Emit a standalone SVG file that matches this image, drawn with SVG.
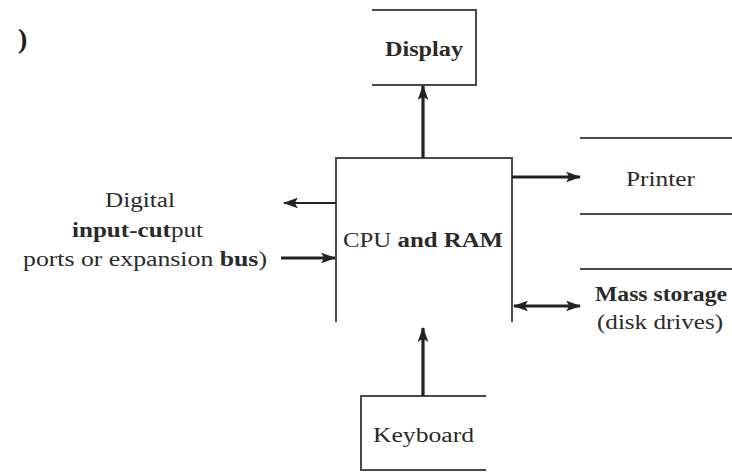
<svg xmlns="http://www.w3.org/2000/svg" width="732" height="472" viewBox="0 0 732 472">
  <style>
    .box { fill: none; stroke: #4a4a4a; stroke-width: 2; }
    .lbl { font-family: "Liberation Serif", "Times New Roman", serif; font-size: 20px; fill: #2a2a2a; }
    .b { font-weight: bold; }
    .wire { stroke: #222; fill: none; }
    .thin { stroke-width: 2; }
    .thick { stroke-width: 3.2; }
  </style>
  <defs>
    <marker id="head" viewBox="0 0 14 10" refX="13" refY="5" markerWidth="15" markerHeight="11" markerUnits="userSpaceOnUse" orient="auto-start-reverse">
      <path d="M0,0 L14,5 L0,10 L3,5 Z" fill="#222"/>
    </marker>
  </defs>

  <rect width="732" height="472" fill="#ffffff"/>

  <!-- stray glyph at the top-left edge -->
  <text class="lbl b" x="18" y="48" style="font-size: 28px; fill: #1a1a1a;">)</text>

  <!-- Display -->
  <g id="display">
    <path class="box" d="M372,10 H476 V85 H372"/>
    <text class="lbl b" x="385" y="56" textLength="78" lengthAdjust="spacingAndGlyphs">Display</text>
  </g>

  <!-- CPU and RAM -->
  <g id="cpu">
    <path class="box" d="M336,322 V158 H512 V322"/>
    <text class="lbl" x="343" y="247" textLength="160" lengthAdjust="spacingAndGlyphs">CPU <tspan class="b">and RAM</tspan></text>
  </g>

  <!-- Printer -->
  <g id="printer">
    <path class="box" d="M580,138 H732 M580,214 H732"/>
    <text class="lbl" x="626" y="186" textLength="69" lengthAdjust="spacingAndGlyphs">Printer</text>
  </g>

  <!-- Mass storage -->
  <g id="storage">
    <path class="box" d="M580,269 H732"/>
    <text class="lbl b" x="595" y="301" textLength="132" lengthAdjust="spacingAndGlyphs">Mass storage</text>
    <text class="lbl" x="597" y="329" textLength="126" lengthAdjust="spacingAndGlyphs">(disk drives)</text>
  </g>

  <!-- Keyboard -->
  <g id="keyboard">
    <path class="box" d="M486,396 H361 V470 H486"/>
    <text class="lbl" x="373" y="442" textLength="101" lengthAdjust="spacingAndGlyphs">Keyboard</text>
  </g>

  <!-- Digital I/O -->
  <g id="digital-io">
    <text class="lbl" x="105" y="207" textLength="70" lengthAdjust="spacingAndGlyphs">Digital</text>
    <text class="lbl" x="72" y="237" textLength="131" lengthAdjust="spacingAndGlyphs"><tspan class="b">input-cut</tspan>put</text>
    <text class="lbl" x="23" y="266" textLength="244" lengthAdjust="spacingAndGlyphs">ports or expansion <tspan class="b">bus</tspan>)</text>
  </g>

  <!-- connectors -->
  <g id="connectors">
    <line class="wire thick" x1="423" y1="158" x2="423" y2="86" marker-end="url(#head)"/>
    <line class="wire thin" x1="336" y1="203" x2="284" y2="203" marker-end="url(#head)"/>
    <line class="wire thick" x1="281" y1="258" x2="335" y2="258" marker-end="url(#head)"/>
    <line class="wire thick" x1="512" y1="177" x2="580" y2="177" marker-end="url(#head)"/>
    <line class="wire thick" x1="514" y1="306" x2="580" y2="306" marker-start="url(#head)" marker-end="url(#head)"/>
    <line class="wire thick" x1="423" y1="396" x2="423" y2="328" marker-end="url(#head)"/>
  </g>
</svg>
